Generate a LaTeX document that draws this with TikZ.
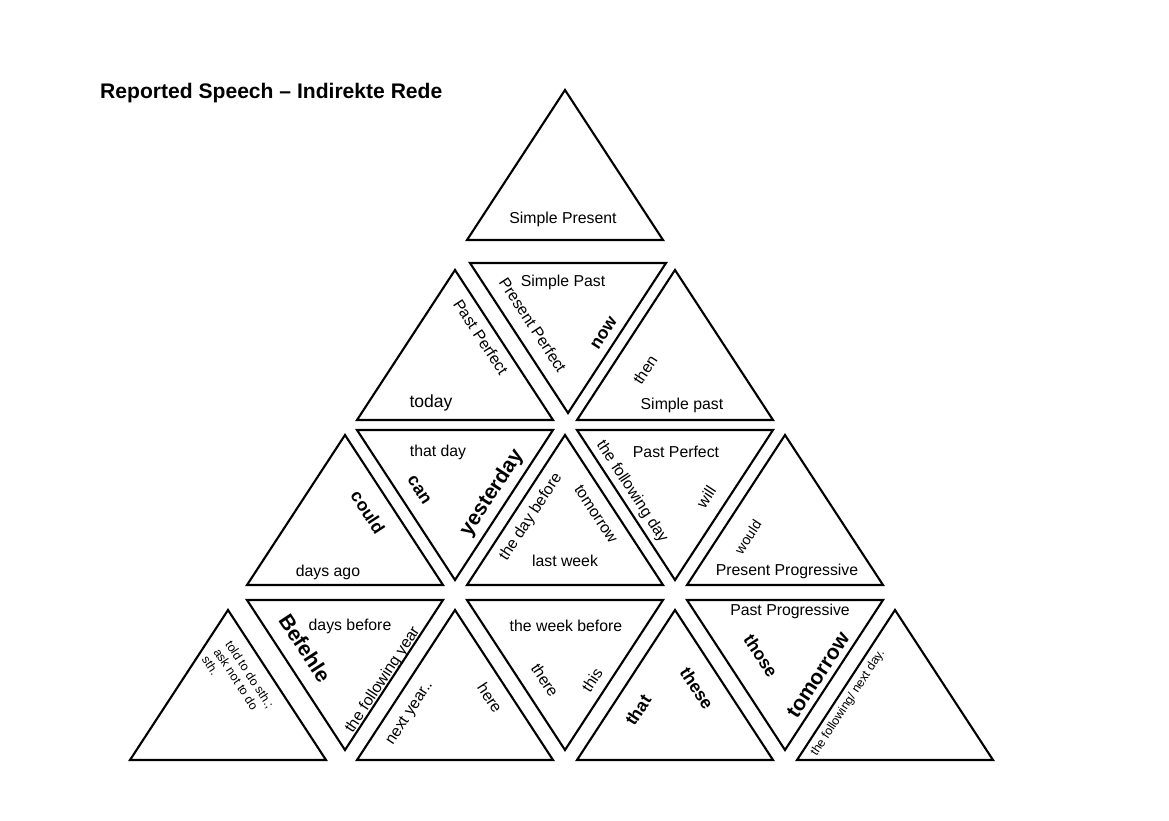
\documentclass[tikz,border=0pt]{standalone}
\usepackage{fontspec}
\setmainfont{Liberation Sans}
\begin{document}
\begin{tikzpicture}[x=0.02cm,y=-0.02cm,
    lbl/.style={font=\small},
    big/.style={font=\bfseries},
    tri/.style={black, very thick, line join=miter}]
                \useasboundingbox (0,0) rectangle (1169,821);

                %% title
                \node[font=\large\bfseries, anchor=west] (title) at (94,93) {Reported Speech -- Indirekte Rede};

                %% up triangles (left corner of base)
                \foreach \x/\y in {467/240, 357/420, 577/420, 247/585, 467/585, 687/585,
                                   130/760, 357/760, 577/760, 797/760}
                    \draw[tri] (\x,\y) -- ++(196,0) -- ++(-98,-150) -- cycle;

                %% down triangles (left corner of top)
                \foreach \x/\y in {470/263, 357/430, 577/430, 247/600, 467/600, 687/600}
                    \draw[tri] (\x,\y) -- ++(196,0) -- ++(-98,150) -- cycle;

                %% row 1
                \node[lbl] (sp) at (563,219) {Simple Present};

                %% row 2
                \node[lbl] (spast) at (563,282) {Simple Past};
                \node[lbl, rotate=-56.8] (pp) at (533,325) {Present Perfect};
                \node[big, rotate=56.8] (now) at (604,333) {now};
                \node[lbl, rotate=-56.8] (ppf) at (481,337) {Past Perfect};
                \node[big, font=\normalsize] (today) at (431,403) {today};
                \node[lbl, rotate=56.8] (then) at (645,370) {then};
                \node[lbl] (spl) at (682,405) {Simple past};

                %% row 3
                \node[lbl] (thatday) at (438,452) {that day};
                \node[big, rotate=-56.8] (can) at (419,490) {can};
                \node[big, font=\large\bfseries, rotate=56.8] (yest) at (492,493) {yesterday};
                \node[big, rotate=-56.8] (could) at (368,512) {could};
                \node[lbl] (dago) at (328,572) {days ago};
                \node[lbl, rotate=56.8] (dbef) at (531,517) {the day before};
                \node[lbl, rotate=-56.8] (tom) at (596,514) {tomorrow};
                \node[lbl] (lweek) at (565,561) {last week};
                \node[lbl, rotate=-56.8] (fday) at (632,492) {the following day};
                \node[lbl] (ppf2) at (676,452) {Past Perfect};
                \node[lbl, rotate=56.8] (will) at (706,497) {will};
                \node[lbl, rotate=56.8, font=\footnotesize] (would) at (748,537) {would};
                \node[lbl] (pprog) at (787,571) {Present Progressive};

                %% row 4
                \node[lbl] (dbefore) at (350,626) {days before};
                \node[big, font=\large\bfseries, rotate=-56.8] (bef) at (305,648) {Befehle};
                \node[lbl, rotate=56.8] (fyear) at (383,680) {the following year};
                \node[lbl, rotate=-56.8, font=\scriptsize, align=left] (told) at (238,682)
                    {told to do sth.;\\ ask not to do\\ sth.};
                \node[lbl, rotate=56.8] (nyear) at (410,713) {next year..};
                \node[lbl, rotate=-56.8] (here) at (490,698) {here};
                \node[lbl] (wbef) at (566,626) {the week before};
                \node[lbl, rotate=-56.8] (there) at (545,680) {there};
                \node[lbl, rotate=56.8] (this) at (592,680) {this};
                \node[big, rotate=56.8] (that) at (638,710) {that};
                \node[big, rotate=-56.8] (these) at (697,688) {these};
                \node[lbl] (pprg) at (790,611) {Past Progressive};
                \node[big, rotate=-56.8] (those) at (761,656) {those};
                \node[big, font=\large\bfseries, rotate=56.8] (tomw) at (818,675) {tomorrow};
                \node[lbl, rotate=56.8, font=\scriptsize] (fnext) at (848,703) {the following/ next day.};
            \end{tikzpicture}
\end{document}
